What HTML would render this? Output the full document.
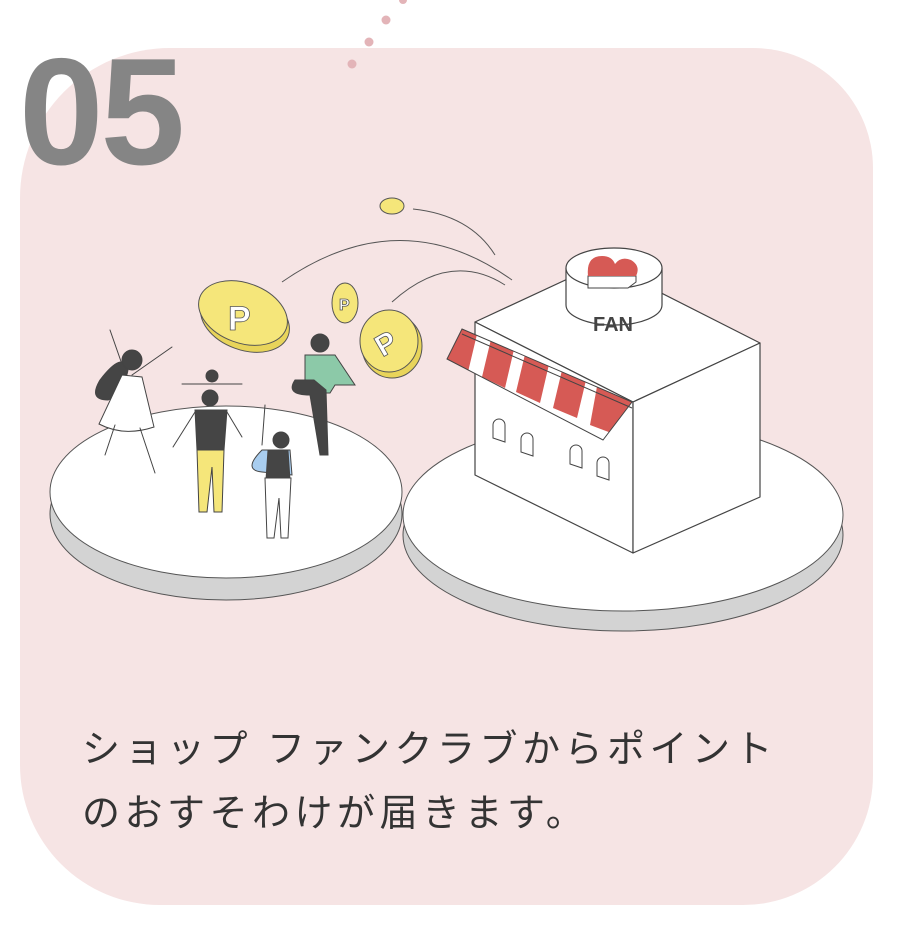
<!DOCTYPE html>
<html><head><meta charset="utf-8"><style>
html,body{margin:0;padding:0;background:#fff;}
body{width:905px;height:935px;overflow:hidden;position:relative;font-family:"Liberation Sans","Noto Sans CJK JP",sans-serif;}
.card{position:absolute;left:20px;top:48px;width:853px;height:857px;background:#f6e4e4;border-radius:150px 120px 130px 140px;}
.num{position:absolute;left:19px;top:36px;font-size:152px;font-weight:bold;color:#858585;letter-spacing:-3px;line-height:1;}
.txt{position:absolute;left:82px;top:718px;font-size:38px;color:#333;line-height:64px;font-family:"Liberation Sans","Noto Sans CJK JP",sans-serif;letter-spacing:4.5px;}
svg{position:absolute;left:0;top:0;}
</style></head><body>
<div class="card"></div>
<svg width="905" height="935" viewBox="0 0 905 935">
<g fill="#e3b4b8"><circle cx="403" cy="0" r="4"/><circle cx="386" cy="20" r="4.5"/><circle cx="369" cy="42" r="4.5"/><circle cx="352" cy="64" r="4.5"/></g>
<ellipse cx="226" cy="514" rx="176" ry="86" fill="#d3d3d3" stroke="#555" stroke-width="1"/>
<ellipse cx="226" cy="492" rx="176" ry="86" fill="#fff" stroke="#555" stroke-width="1"/>
<ellipse cx="623" cy="535" rx="220" ry="96" fill="#d3d3d3" stroke="#555" stroke-width="1"/>
<ellipse cx="623" cy="515" rx="220" ry="96" fill="#fff" stroke="#555" stroke-width="1"/>
<g fill="none" stroke="#555" stroke-width="1">
<path d="M282 282 Q400 200 512 280"/>
<path d="M392 302 Q450 250 505 285"/>
<path d="M413 209 Q470 215 495 255"/>
</g>
<g stroke="#444" stroke-width="1.2" stroke-linejoin="round">
<polygon points="475,322 602,263 760,343 633,402" fill="#fff"/>
<polygon points="475,322 633,402 633,553 475,475" fill="#fff"/>
<polygon points="633,402 760,343 760,497 633,553" fill="#fff"/>
</g>
<g fill="#fff" stroke="#444" stroke-width="1">
<path d="M493 438 v-13 a6 6 0 0 1 12 0 v17 z"/>
<path d="M521 452 v-13 a6 6 0 0 1 12 0 v17 z"/>
<path d="M570 464 v-13 a6 6 0 0 1 12 0 v17 z"/>
<path d="M597 476 v-13 a6 6 0 0 1 12 0 v17 z"/>
</g>
<defs><clipPath id="aw"><polygon points="462,329 632,402 603,440 447,359"/></clipPath></defs>
<polygon points="462,329 632,402 603,440 447,359" fill="#fff"/>
<g clip-path="url(#aw)" fill="#d65a55">
<polygon points="455,320 478,330 468,372 445,362"/>
<polygon points="492,335 515,345 505,388 482,377"/>
<polygon points="526,350 550,360 540,403 516,392"/>
<polygon points="563,366 587,376 577,418 553,408"/>
<polygon points="598,381 640,399 630,440 590,425"/>
</g>
<g fill="none" stroke="#444" stroke-width="1"><polygon points="462,329 632,402 603,440 447,359"/><line x1="462" y1="334" x2="632" y2="408"/></g>
<path d="M566 268 v37 a48 20 0 0 0 96 0 v-37" fill="#fff" stroke="#444" stroke-width="1.2"/>
<ellipse cx="614" cy="268" rx="48" ry="20" fill="#fff" stroke="#444" stroke-width="1.2"/>
<path d="M588 284 v-8 l48 0 v6 l-8 6 h-40z" fill="#fff" stroke="#444"/>
<path d="M588 276 q-2-20 14-20 q10 0 13 8 q6-8 16-4 q10 6 5 16 z" fill="#d65a55"/>
<text x="613" y="331" font-family="Liberation Sans" font-weight="bold" font-size="20" fill="#444" text-anchor="middle">FAN</text>
<g stroke="#555" stroke-width="1">
<ellipse cx="245" cy="320" rx="46" ry="30" fill="#e8d45a" transform="rotate(20 245 320)"/>
<ellipse cx="243" cy="313" rx="46" ry="30" fill="#f5e67a" transform="rotate(20 243 313)"/>
<ellipse cx="392" cy="346" rx="30" ry="32" fill="#e8d45a"/>
<ellipse cx="389" cy="341" rx="29" ry="31" fill="#f5e67a"/>
<ellipse cx="345" cy="303" rx="13" ry="20" fill="#f5e67a"/>
<ellipse cx="392" cy="206" rx="12" ry="8" fill="#f5e67a"/>
</g>
<g fill="#fff" font-family="Liberation Sans" font-weight="bold" stroke="#555" stroke-width="0.8">
<text x="228" y="330" font-size="34">P</text>
<text x="375" y="352" font-size="30" transform="rotate(-30 389 341)">P</text>
<text x="339" y="310" font-size="16">P</text>
</g>
<g stroke="#444" stroke-width="1" stroke-linecap="round">
<path d="M110 330 l14 40 M132 375 l40-28" fill="none"/>
<path d="M100 380 q-12 20 8 20 q15-5 20-30 q-5-20-28 10z" fill="#454545"/>
<circle cx="132" cy="360" r="10" fill="#454545"/>
<path d="M122 375 l20 2 l12 50 q-30 10-55-3z" fill="#fff"/>
<path d="M115 425 l-10 30 M140 428 l15 45" fill="none"/>
<path d="M182 384 l60 0" fill="none"/>
<circle cx="212" cy="376" r="6" fill="#454545"/>
<circle cx="210" cy="398" r="8" fill="#454545"/>
<path d="M195 410 h32 l-3 40 h-27z" fill="#454545"/>
<path d="M197 450 h27 l-2 62 h-8 l-2-45 l-5 45 h-8z" fill="#f5e67a"/>
<path d="M195 412 l-22 35 M227 412 l15 25" fill="none"/>
<path d="M265 405 l-3 40" fill="none"/>
<circle cx="281" cy="440" r="8" fill="#454545"/>
<path d="M262 450 q-20 20 0 22 l30 3 l-2-25z" fill="#a8cdef"/>
<path d="M268 450 h20 l2 30 h-24z" fill="#454545"/>
<path d="M265 478 h26 l-3 60 h-7 l-2-40 l-5 40 h-7z" fill="#fff"/>
<circle cx="320" cy="343" r="9" fill="#454545"/>
<path d="M305 355 h30 l20 30 l-20 0 l-5 8 h-25z" fill="#8cc9a8"/>
<path d="M295 380 q-10 15 15 15 l10 60 h8 l-2-65 l-12-10z" fill="#454545"/>
</g>
</svg>
<div class="num">05</div>
<div class="txt">ショップ ファンクラブからポイント<br>のおすそわけが届きます。</div>
</body></html>
